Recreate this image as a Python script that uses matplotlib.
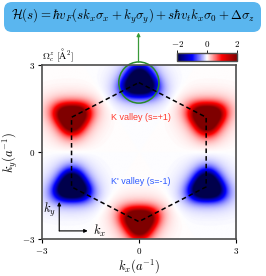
import numpy as np
import matplotlib
matplotlib.use("Agg")
import matplotlib.pyplot as plt
from matplotlib.patches import FancyBboxPatch, Ellipse
from matplotlib.transforms import IdentityTransform

plt.rcParams['mathtext.fontset'] = 'cm'
plt.rcParams['font.family'] = ['Liberation Sans', 'DejaVu Sans']

# --- data ---
# valley positions (hexagon corners of the BZ, units of 1/a) and valley index s
valley_kx = [0.0, 2.08, 2.08, 0.0, -2.08, -2.08]
valley_ky = [2.4, 1.2, -1.2, -2.4, -1.2, 1.2]
valley_s = [-1, 1, -1, 1, -1, 1]
peak_amp = 4.2      # Berry curvature core scale (A^2), saturates colour scale
core_w = 0.42       # core width (1/a)
halo_amp = 0.45     # weak tail of the curvature
halo_w = 0.8
warp = 0.09         # trigonal warping strength
cbar_ticks = [-2, 0, 2]
axis_ticks = [-3, 0, 3]

# Berry curvature map
kx = np.linspace(-3, 3, 400)
ky = np.linspace(-3, 3, 400)
KX, KY = np.meshgrid(kx, ky)
omega = np.zeros_like(KX)
for x0, y0, s in zip(valley_kx, valley_ky, valley_s):
    dx, dy = KX - x0, KY - y0
    q = np.hypot(dx, dy)
    th = np.arctan2(dy, dx)
    q_eff = q * (1 - warp * s * np.sin(3 * th))
    omega += s * (peak_amp * np.exp(-(q_eff / core_w) ** 2)
                  + halo_amp * np.exp(-(q_eff / halo_w) ** 2))

fig = plt.figure(figsize=(2.66, 2.76), dpi=100)
ax = fig.add_axes([0.157, 0.134, 0.73, 0.630])

im = ax.imshow(omega, extent=[-3, 3, -3, 3], origin='lower', cmap='seismic',
               vmin=-2, vmax=2, aspect='auto', interpolation='bilinear')

# hexagon
hx = valley_kx + [valley_kx[0]]
hy = valley_ky + [valley_ky[0]]
ax.plot(hx, hy, color='black', ls=(0, (3, 2)), lw=1.1)

ax.set_xlim(-3, 3)
ax.set_ylim(-3, 3)
ax.set_xticks(axis_ticks)
ax.set_yticks(axis_ticks)
ax.set_xticklabels([r'$-3$', r'$0$', r'$3$'], fontsize=6.5)
ax.set_yticklabels([r'$-3$', r'$0$', r'$3$'], fontsize=6.5)
ax.tick_params(direction='out', length=3, width=0.8, pad=2)
for sp in ax.spines.values():
    sp.set_color('0.3')
    sp.set_linewidth(1.2)
ax.set_xlabel(r'$k_x(a^{-1})$', fontsize=9, labelpad=1)
ax.set_ylabel(r'$k_y(a^{-1})$', fontsize=9, labelpad=1)

ax.text(0.05, 1.2, 'K valley (s=+1)', color='#ff3b2f', fontsize=6.5,
        ha='center', va='center')
ax.text(0.05, -1.0, "K' valley (s=-1)", color='#2f5bff', fontsize=6.5,
        ha='center', va='center')
ax.text(-3.0, 3.35, r'$\Omega_c^z\ [\mathrm{\AA}^2]$', fontsize=7,
        ha='left', va='center')

# inset k-axes
ax.annotate('', xy=(-2.46, -1.72), xytext=(-2.46, -2.72),
            arrowprops=dict(arrowstyle='-|>', color='black', lw=0.8,
                            mutation_scale=5, shrinkA=0, shrinkB=0))
ax.annotate('', xy=(-1.58, -2.72), xytext=(-2.46, -2.72),
            arrowprops=dict(arrowstyle='-|>', color='black', lw=0.8,
                            mutation_scale=5, shrinkA=0, shrinkB=0))
ax.text(-2.78, -2.0, r'$k_y$', fontsize=9, ha='center', va='center')
ax.text(-1.2, -2.72, r'$k_x$', fontsize=9, ha='center', va='center')

# highlight circle around top valley
circ = Ellipse((0.0, 2.4), 1.24, 1.42, fill=False, edgecolor='#2a8a2a',
               lw=1.1, clip_on=False)
ax.add_patch(circ)

# colorbar
cax = fig.add_axes([177.3 / 266, 1 - 60.7 / 276, 59.4 / 266, 7.4 / 276])
cb = fig.colorbar(im, cax=cax, orientation='horizontal', ticks=cbar_ticks)
cax.xaxis.set_ticks_position('top')
cax.set_xticklabels([r'$-2$', r'$0$', r'$2$'], fontsize=6.5)
cax.tick_params(length=2, width=0.6, pad=1)
cb.outline.set_edgecolor('0.3')
cb.outline.set_linewidth(1.0)

# title box with Hamiltonian
H = 276
box = FancyBboxPatch((4, H - 32), 257, 30, boxstyle='round,pad=0,rounding_size=8',
                     transform=IdentityTransform(), facecolor='#5ab6ef',
                     edgecolor='none')
fig.patches.append(box)
fig.text(133 / 266, 1 - 16.5 / 276,
         r'$\mathcal{H}(s) = \hbar v_F(sk_x\sigma_x + k_y\sigma_y) + s\hbar v_t k_x\sigma_0 + \Delta\sigma_z$',
         fontsize=9.3, ha='center', va='center')

# green arrow from circle up to the box
ax.annotate('', xy=(138.5 / 266, 1 - 32.5 / 276), xycoords='figure fraction',
            xytext=(138.5 / 266, 1 - 62 / 276), textcoords='figure fraction',
            arrowprops=dict(arrowstyle='-|>', color='#3a9a3a', lw=0.9,
                            mutation_scale=5, shrinkA=0, shrinkB=0))

fig.savefig('out.png', dpi=100)
